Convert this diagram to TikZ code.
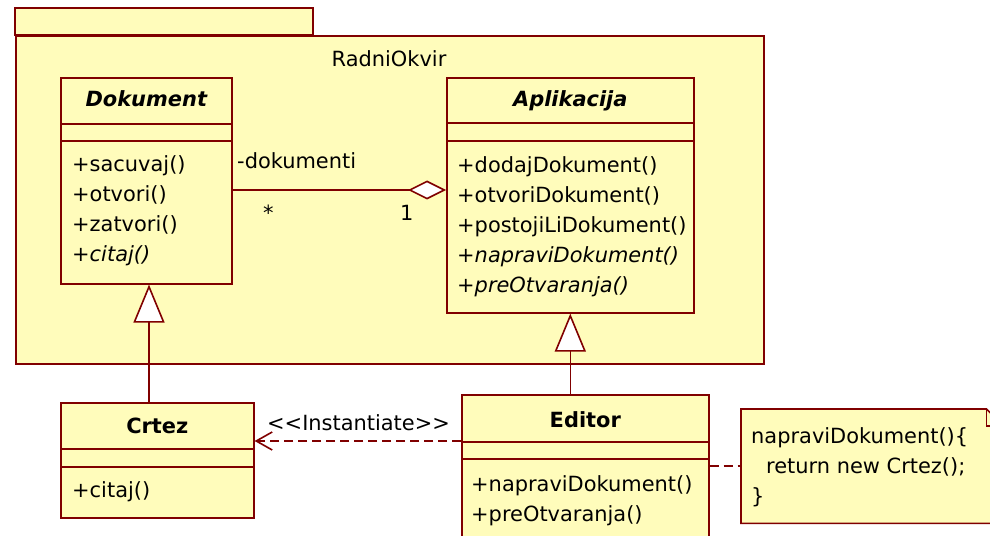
\documentclass[tikz,border=0pt]{standalone}
\usepackage{fontspec}
\setmainfont{DejaVu Sans}
\usepackage{tikz}
\usetikzlibrary{arrows.meta,calc}
\definecolor{rosefill}{RGB}{255,252,187}
\definecolor{roseline}{RGB}{128,0,0}
\tikzset{
  paket/.style={draw=roseline, fill=rosefill, line width=1.6bp},
  klasa/.style={draw=roseline, fill=rosefill, line width=1.6bp, inner sep=0pt, anchor=north west},
  veza/.style={draw=roseline, line width=1.6bp},
  crtkano/.style={dash pattern=on 9bp off 5bp},
  tekst/.style={inner sep=0pt, anchor=base west, font=\fontsize{21}{30}\selectfont},
  ime/.style={inner sep=0pt, anchor=base, font=\fontsize{21}{30}\selectfont\bfseries},
}
% linije odjeljaka klase
\newcommand{\pregrade}[3]{%
  \draw[veza] ($(#1.north west)+(0,#2)$) -- ($(#1.north east)+(0,#2)$);
  \draw[veza] ($(#1.north west)+(0,#3)$) -- ($(#1.north east)+(0,#3)$);}
\begin{document}
\begin{tikzpicture}[x=1bp,y=-1bp]
    \useasboundingbox (0,0) rectangle (990,536);
    \clip (0,0) rectangle (990,536);
    % paket
    \draw[paket] (15,8) rectangle (313,35);
    \node[klasa, minimum width=748bp, minimum height=328bp] (okvir) at (15,35) {};
    \node[ime, font=\fontsize{21}{30}\selectfont] (okvirime) at (389,67) {RadniOkvir};
    % Dokument
    \node[klasa, minimum width=171bp, minimum height=206bp] (dokument) at (60,77) {};
    \pregrade{dokument}{47}{64}
    \node[ime, font=\fontsize{21}{30}\selectfont\bfseries\itshape] (dokumentime) at (dokument.north |- 0,107) {Dokument};
    \foreach \t [count=\i] in {+sacuvaj(), +otvori(), +zatvori(), \textit{+citaj()}}
        \node[tekst] (dokumentop\i) at (72,142+30*\i) {\t};
    % Aplikacija
    \node[klasa, minimum width=247bp, minimum height=235bp] (aplikacija) at (446,77) {};
    \pregrade{aplikacija}{46}{64}
    \node[ime, font=\fontsize{21}{30}\selectfont\bfseries\itshape] (aplikacijaime) at (aplikacija.north |- 0,107) {Aplikacija};
    \foreach \t [count=\i] in {+dodajDokument(), +otvoriDokument(), +postojiLiDokument(),
                               \textit{+napraviDokument()}, \textit{+preOtvaranja()}}
        \node[tekst] (aplikacijaop\i) at (457,143+30*\i) {\t};
    % Crtez
    \node[klasa, minimum width=193bp, minimum height=115bp] (crtez) at (60,402) {};
    \pregrade{crtez}{47}{65}
    \node[ime] (crtezime) at (crtez.north |- 0,433) {Crtez};
    \node[tekst] (crtezop1) at (72,497) {+citaj()};
    % Editor
    \node[klasa, minimum width=247bp, minimum height=170bp] (editor) at (461,394) {};
    \pregrade{editor}{48}{65}
    \node[ime] (editorime) at (editor.north |- 0,427) {Editor};
    \foreach \t [count=\i] in {+napraviDokument(), +preOtvaranja()}
        \node[tekst] (editorop\i) at (471,461+30*\i) {\t};
    % biljeska
    \node[inner sep=0pt, anchor=north west, minimum width=262bp, minimum height=114bp] (biljeska) at (741,409) {};
    \draw[paket] (biljeska.north west) -- ($(biljeska.north east)+(-17,0)$) -- ($(biljeska.north east)+(0,17)$)
        -- (biljeska.south east) -- (biljeska.south west) -- cycle;
    \draw[veza] ($(biljeska.north east)+(-17,0)$) -- ($(biljeska.north east)+(-17,17)$) -- ($(biljeska.north east)+(0,17)$);
    \node[tekst] (kod1) at (751,443) {napraviDokument()\{};
    \node[tekst] (kod2) at (751,473) {\hspace{15bp}return new Crtez();};
    \node[tekst] (kod3) at (751,503) {\}};
    % veze
    \coordinate (asoc) at (0,190);
    \draw[veza, -{Diamond[fill=white, length=38bp, width=19bp]}] (dokument.east |- asoc) -- (aplikacija.west |- asoc);
    \node[tekst] (uloga) at (237,169) {-dokumenti};
    \node[tekst] (vise) at (263,221) {*};
    \node[tekst] (jedan) at (400,221) {1};
    \coordinate (nasl) at (149,0);
    \draw[veza, -{Triangle[fill=white, length=38bp, width=31bp]}] (nasl |- crtez.north) -- (nasl |- dokument.south);
    \draw[veza, -{Triangle[fill=white, length=38bp, width=31bp]}] (editor.north -| aplikacija.south) -- (aplikacija.south);
    \coordinate (inst) at (0,441);
    \draw[veza, crtkano, -{Straight Barb[length=16bp, width=18bp]}] (editor.west |- inst) -- (crtez.east |- inst);
    \node[tekst] (stereotip) at (267,430) {<{}<Instantiate>{}>};
    \draw[veza, crtkano] (editor.east |- biljeska.west) -- (biljeska.west);
\end{tikzpicture}
\end{document}
